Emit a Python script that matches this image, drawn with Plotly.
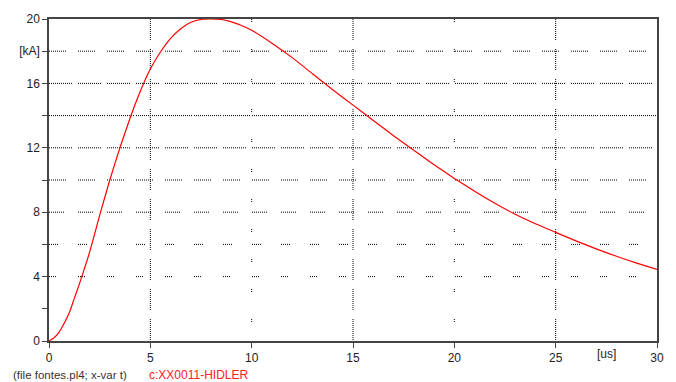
import plotly.graph_objects as go

# ---- data ----
t_us = [0, 0.25, 0.5, 0.75, 1.0, 1.25, 1.5, 2.0, 2.5, 3.0, 3.5, 4.0, 4.5, 5.0, 5.5,
        6.0, 6.5, 7.0, 7.5, 8.0, 8.5, 9.0, 9.5, 10, 11, 12, 13, 14, 15, 16, 17, 18,
        19, 20, 21, 22, 23, 24, 25, 26, 27, 28, 29, 30]
i_kA = [0, 0.2, 0.55, 1.1, 1.75, 2.65, 3.55, 5.5, 7.8, 10.0, 12.0, 13.85, 15.5, 16.9, 17.95,
        18.8, 19.4, 19.8, 19.97, 20.0, 19.97, 19.82, 19.6, 19.3, 18.5, 17.6, 16.6, 15.6,
        14.65, 13.7, 12.75, 11.85, 10.95, 10.1, 9.3, 8.55, 7.87, 7.28, 6.75, 6.22, 5.72, 5.26,
        4.84, 4.45]

y_tickvals = [0, 2, 4, 6, 8, 10, 12, 14, 16, 18, 20]
y_ticktext = ["0", "", "4", "", "8", "", "12", "", "16", "[kA]", "20"]
x_tickvals = [0, 5, 10, 15, 20, 25, 30]
x_ticktext = ["0", "5", "10", "15", "20", "25", "30"]

# horizontal grid levels and their dotted-segment length (px)
h_grid_levels = [18, 16, 14, 12, 10, 8, 6, 4]
h_grid_seglen = [17, 23, 27, 23, 18, 15, 10, 7]
v_grid_main = [5, 15, 25]
v_grid_sparse = [10, 20]


def dotted(seg, period=29):
    n = max(1, (seg + 1) // 2)
    parts = []
    for k in range(n):
        parts.append("1px")
        parts.append("1px" if k < n - 1 else f"{period - (2 * n - 1)}px")
    return ",".join(parts)


XR = [0, 30]
YR = [0, 20]
font = dict(family="Liberation Sans, Arial, sans-serif", size=12, color="#222")

fig = go.Figure()
fig.add_trace(go.Scatter(x=t_us, y=i_kA, mode="lines",
                         line=dict(color="#ff0000", width=1.2, shape="spline", smoothing=0.5),
                         name="c:XX0011-HIDLER"))

shapes = []
for lvl, seg in zip(h_grid_levels, h_grid_seglen):
    shapes.append(dict(type="line", xref="x", yref="y", x0=XR[0], x1=XR[1], y0=lvl, y1=lvl,
                       layer="below", line=dict(color="#000", width=1, dash=dotted(seg))))
for xv in v_grid_main:
    shapes.append(dict(type="line", xref="x", yref="y", x0=xv, x1=xv, y0=YR[1], y1=YR[0],
                       layer="below", line=dict(color="#000", width=1, dash=dotted(21, 30))))
for xv in v_grid_sparse:
    shapes.append(dict(type="line", xref="x", yref="y", x0=xv, x1=xv, y0=YR[1], y1=YR[0],
                       layer="below", line=dict(color="#000", width=1, dash="1px,1px,1px,27px")))

L, W = 49, 610
fig.update_layout(
    width=676, height=382,
    margin=dict(l=L, r=676 - L - W, t=16, b=41),
    paper_bgcolor="white", plot_bgcolor="white",
    showlegend=False,
    font=font,
    xaxis=dict(range=XR, tickvals=x_tickvals, ticktext=x_ticktext, ticks="outside",
               ticklen=5, tickcolor="#444", showline=True, linecolor="#444", linewidth=1.5,
               mirror=True, showgrid=False, zeroline=False, tickfont=font, fixedrange=True),
    yaxis=dict(range=YR, tickvals=y_tickvals, ticktext=y_ticktext, ticks="outside",
               ticklen=5, tickcolor="#444", showline=True, linecolor="#444", linewidth=1.5,
               mirror=True, showgrid=False, zeroline=False, tickfont=font, fixedrange=True),
    shapes=shapes,
    annotations=[
        dict(text="[us]", x=27.5, y=0, xref="x", yref="paper", yshift=-13, showarrow=False,
             font=font, xanchor="center", yanchor="middle"),
        dict(text="(file fontes.pl4; x-var t)", x=(11 - L) / W, y=0, xref="paper", yref="paper",
             yshift=-34, showarrow=False, xanchor="left", yanchor="middle",
             font=dict(family="Liberation Sans, Arial, sans-serif", size=11.5, color="#333")),
        dict(text="c:XX0011-HIDLER", x=(147 - L) / W, y=0, xref="paper", yref="paper",
             yshift=-34, showarrow=False, xanchor="left", yanchor="middle",
             font=dict(family="Liberation Sans, Arial, sans-serif", size=12, color="#ff2020")),
    ],
)
fig.write_html("out.html", config=dict(displayModeBar=False))
